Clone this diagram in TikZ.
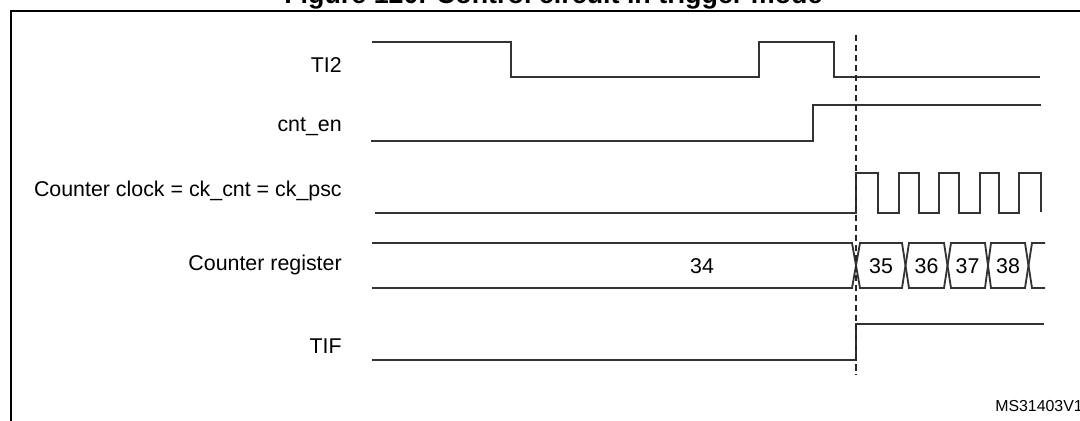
\documentclass[tikz,border=0pt]{standalone}
\usepackage{fontspec}
\setmainfont{Liberation Sans}
\usepackage{tikz}
\usetikzlibrary{arrows}

\begin{document}
\begin{tikzpicture}[x=0.025cm,y=-0.025cm,
        wave/.style={line width=1.3pt, black!80, line join=miter},
        sig/.style={anchor=base east, inner sep=0pt, font=\fontsize{15.2}{18}\selectfont},
        val/.style={anchor=base, inner sep=0pt, font=\fontsize{15.2}{18}\selectfont}]
        \useasboundingbox (0,0) rectangle (1080,421);
        \draw[line width=1.8pt] (1100,11) -- (11,11) -- (11,440);
        \node[anchor=base west, inner sep=0pt, font=\bfseries\fontsize{19.1}{22}\selectfont] (title) at (284,3.5) {Figure 120. Control circuit in trigger mode};
        \node[sig] (ti2) at (342,72.7) {TI2};
        \node[sig] (cnten) at (342,131.7) {cnt\_en};
        \node[sig] (ckcnt) at (342,196.7) {Counter clock = ck\_cnt = ck\_psc};
        \node[sig] (cntreg) at (342,270.7) {Counter register};
        \node[sig] (tif) at (342,353) {TIF};
        \draw[wave] (372,42) -- (511,42) -- (511,77) -- (759,77) -- (759,42) -- (834,42) -- (834,77) -- (1040,77);
        \draw[wave] (371,141) -- (813,141) -- (813,105) -- (1041,105);
        \draw[wave] (375,213) -- (856,213) -- (856,173) -- (878,173) -- (878,213) -- (899,213) -- (899,173) -- (919,173) -- (919,213) -- (939,213) -- (939,173) -- (959,173) -- (959,213) -- (980,213) -- (980,173) -- (999,173) -- (999,213) -- (1019,213) -- (1019,173) -- (1041,173) -- (1041,212);
        \draw[wave] (372,243) -- (852,243) -- (860,288) -- (902,288) -- (909,243) -- (944,243) -- (951,288) -- (985,288) -- (991,243) -- (1025,243) -- (1032,288) -- (1045,288);
        \draw[wave] (372,288) -- (852,288) -- (860,243) -- (902,243) -- (909,288) -- (944,288) -- (951,243) -- (985,243) -- (991,288) -- (1025,288) -- (1032,243) -- (1045,243);
        \node[val] (v34) at (702,273) {34};
        \node[val] (v35) at (881,273) {35};
        \node[val] (v36) at (926.5,273) {36};
        \node[val] (v37) at (967.5,273) {37};
        \node[val] (v38) at (1008,273) {38};
        \draw[wave] (372,360) -- (856,360) -- (856,324) -- (1044,324);
        \draw[line width=1.1pt, black!85, dash pattern=on 4.3pt off 2.8pt] (856,35) -- (856,375);
        \node[anchor=base west, inner sep=0pt, font=\fontsize{11.3}{13}\selectfont] (code) at (995,411.7) {MS31403V1};
\end{tikzpicture}
\end{document}
